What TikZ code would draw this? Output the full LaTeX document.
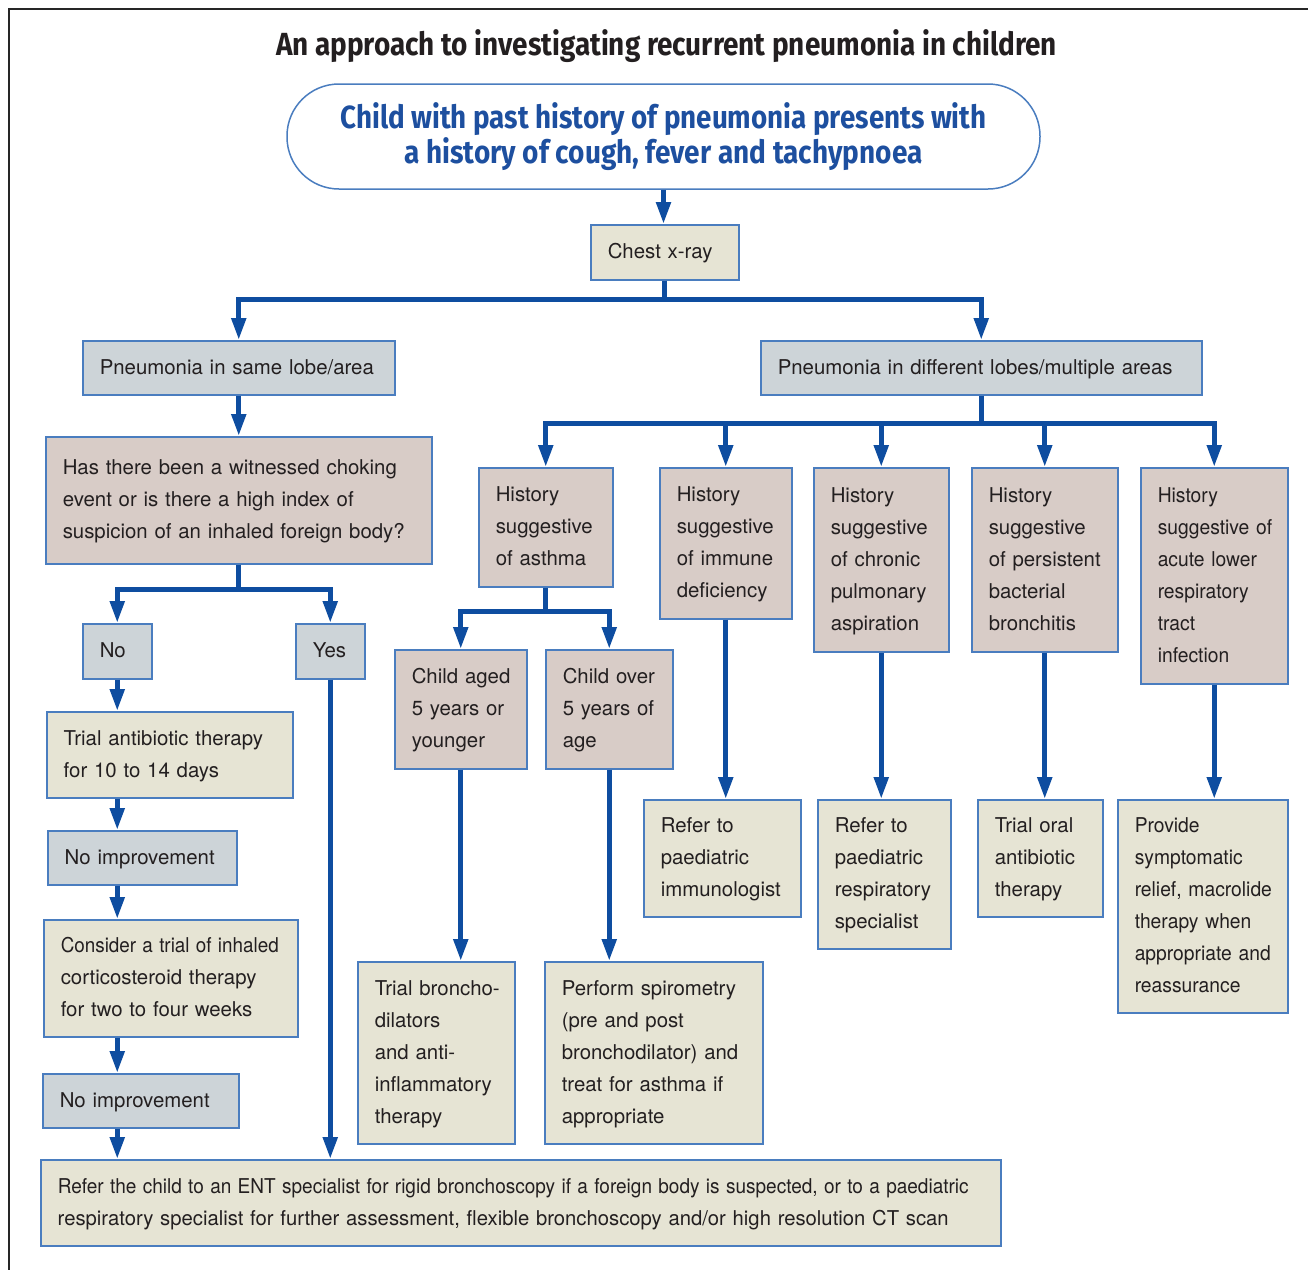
\documentclass[tikz,border=0pt]{standalone}
\usepackage{fontspec}
\usepackage{graphicx}
\setmainfont{TeX Gyre Heros}
\newfontfamily\condfont[FakeStretch=0.945]{TeX Gyre Heros}
\newfontfamily\titlefont{Fira Sans}
\usetikzlibrary{arrows.meta}
\definecolor{linec}{RGB}{14,77,160}
\definecolor{bordc}{RGB}{74,125,191}
\definecolor{beigec}{RGB}{230,228,212}
\definecolor{greyc}{RGB}{205,212,216}
\definecolor{pinkc}{RGB}{216,204,199}
\definecolor{txtc}{RGB}{35,31,32}
\definecolor{headc}{RGB}{29,79,159}
\newsavebox\fitbox
\newcommand\fitto[2]{\sbox\fitbox{#2}\pgfmathsetmacro\fitfac{#1/\the\wd\fitbox}\scalebox{\fitfac}[1]{\usebox\fitbox}}
\newcommand\tl[1]{\begin{tabular}{@{}l@{}}#1\end{tabular}}
\newcommand\bx[7]{%
 \pgfmathsetmacro\bxw{(#5-#3)*0.5}%
 \pgfmathsetmacro\bxh{(#6-#4)*0.5}%
 \pgfmathsetmacro\bxt{(#5-#3-34)*0.5}%
 \node[#2, anchor=north west, minimum width=\bxw pt, minimum height=\bxh pt, text width=\bxt pt] (#1) at (#3,#4) {\tl{#7}};}
\begin{document}
\begin{tikzpicture}[x=0.5pt,y=-0.5pt,
  box/.style={draw=bordc, line width=0.75pt, inner xsep=8.5pt, inner ysep=0pt, align=left, text=txtc, font=\fontsize{10.2pt}{16pt}\selectfont},
  cond/.style={font=\condfont\fontsize{10.2pt}{16pt}\selectfont},
  beige/.style={box, fill=beigec},
  greyb/.style={box, fill=greyc},
  pinkb/.style={box, fill=pinkc},
  conn/.style={draw=linec, line width=2.5pt},
  arr/.style={conn, -{Triangle[length=11pt,width=7pt]}},
  stad/.style={draw=bordc, line width=0.75pt, rounded corners=26pt, minimum width=376.5pt, minimum height=52.5pt, align=center, text=headc, inner sep=0pt, font=\titlefont\bfseries\fontsize{16pt}{16pt}\selectfont}
]
\useasboundingbox (0,0) rectangle (1308,1270);
\draw[line width=1.2pt, draw=black!85] (9,1270) -- (9,9) -- (1308,9);

\node[text=txtc, font=\titlefont\bfseries\fontsize{16pt}{16pt}\selectfont, inner sep=0pt] (title) at (666.5,46) {\fitto{390.5}{An approach to investigating recurrent pneumonia in children}};

\node[stad] (start) at (663.5,136.5) {\fitto{323}{Child with past history of pneumonia presents with}\\\fitto{259}{a history of cough, fever and tachypnoea}};

\bx{chest}{beige}{590}{224}{738}{279}{Chest x-ray}
\bx{same}{greyb}{82}{340}{394}{394}{Pneumonia in same lobe/area}
\bx{diff}{greyb}{760}{340}{1201}{394}{Pneumonia in different lobes/multiple areas}
\bx{has}{pinkb}{45}{436}{431}{563}{Has there been a witnessed choking\\event or is there a high index of\\suspicion of an inhaled foreign body?}
\bx{no}{greyb}{82}{623}{151}{678}{No}
\bx{yes}{greyb}{295}{623}{364}{678}{Yes}
\bx{trial}{beige}{46}{711}{292}{797}{Trial antibiotic therapy\\for 10 to 14 days}
\bx{ni1}{greyb}{47}{830}{236}{884}{No improvement}
\bx{cons}{beige}{43}{919}{297}{1036}{\fitto{109}{Consider a trial of inhaled}\\corticosteroid therapy\\for two to four weeks}
\bx{ni2}{greyb}{42}{1073}{238}{1127}{No improvement}
\bx{bottom}{beige}{40}{1159}{1000}{1245}{\fitto{455.5}{Refer the child to an ENT specialist for rigid bronchoscopy if a foreign body is suspected, or to a paediatric}\\\fitto{445.5}{respiratory specialist for further assessment, flexible bronchoscopy and/or high resolution CT scan}}
\bx{asth}{pinkb}{478}{467}{612}{586}{History\\suggestive\\of asthma}
\bx{imm}{pinkb}{659}{467}{791}{618}{History\\suggestive\\of immune\\deficiency}
\bx{chr}{pinkb}{813}{467}{948}{651}{History\\suggestive\\of chronic\\pulmonary\\aspiration}
\bx{pbb}{pinkb}{971}{467}{1117}{651}{History\\suggestive\\of persistent\\bacterial\\bronchitis}
\bx{alri}{pinkb, cond}{1140}{467}{1287}{683}{History\\suggestive of\\acute lower\\respiratory\\tract\\infection}
\bx{aged}{pinkb}{394}{649}{526}{768}{Child aged\\5 years or\\younger}
\bx{over}{pinkb}{545}{649}{672}{768}{Child over\\5 years of\\age}
\bx{tb}{beige}{357}{961}{514}{1143}{Trial broncho-\\dilators\\and anti-\\inflammatory\\therapy}
\bx{spiro}{beige}{544}{961}{762}{1143}{Perform spirometry\\(pre and post\\bronchodilator) and\\treat for asthma if\\appropriate}
\bx{rimm}{beige}{643}{799}{800}{916}{Refer to\\paediatric\\immunologist}
\bx{rresp}{beige}{817}{799}{950}{948}{Refer to\\paediatric\\respiratory\\specialist}
\bx{toral}{beige}{977}{799}{1102}{916}{Trial oral\\antibiotic\\therapy}
\bx{prov}{beige, cond}{1117}{799}{1287}{1012}{Provide\\symptomatic\\relief, macrolide\\therapy when\\appropriate and\\reassurance}

\draw[arr] (start.south) -- (start.south |- chest.north);
\draw[conn] (chest.south) -- ++(0,19) coordinate (j1);
\draw[arr] (j1) -| (same);
\draw[arr] (j1) -| (diff);
\draw[arr] (same) -- (has);
\draw[conn] (has.south) -- ++(0,25) coordinate (j2);
\draw[arr] (j2) -| (no);
\draw[arr] (j2) -| (yes);
\draw[arr] (no) -- (no |- trial.north);
\draw[arr] (trial.south -| no) -- (ni1.north -| no);
\draw[arr] (ni1.south -| no) -- (cons.north -| no);
\draw[arr] (cons.south -| no) -- (ni2.north -| no);
\draw[arr] (ni2.south -| no) -- (bottom.north -| no);
\draw[arr] (yes) -- (yes |- bottom.north);

\draw[conn] (diff.south) -- ++(0,28) coordinate (j3);
\draw[arr] (j3) -| (asth);
\draw[arr] (j3) -| (imm);
\draw[arr] (j3) -| (chr);
\draw[arr] (j3) -| (pbb);
\draw[arr] (j3) -| (alri);
\draw[conn] (asth.south) -- ++(0,24) coordinate (j4);
\draw[arr] (j4) -| (aged);
\draw[arr] (j4) -| (over);
\draw[arr] (aged) -- (aged |- tb.north);
\draw[arr] (over) -- (over |- spiro.north);
\draw[arr] (imm) -- (imm |- rimm.north);
\draw[arr] (chr) -- (chr |- rresp.north);
\draw[arr] (pbb) -- (pbb |- toral.north);
\draw[arr] (alri) -- (alri |- prov.north);
\end{tikzpicture}
\end{document}
